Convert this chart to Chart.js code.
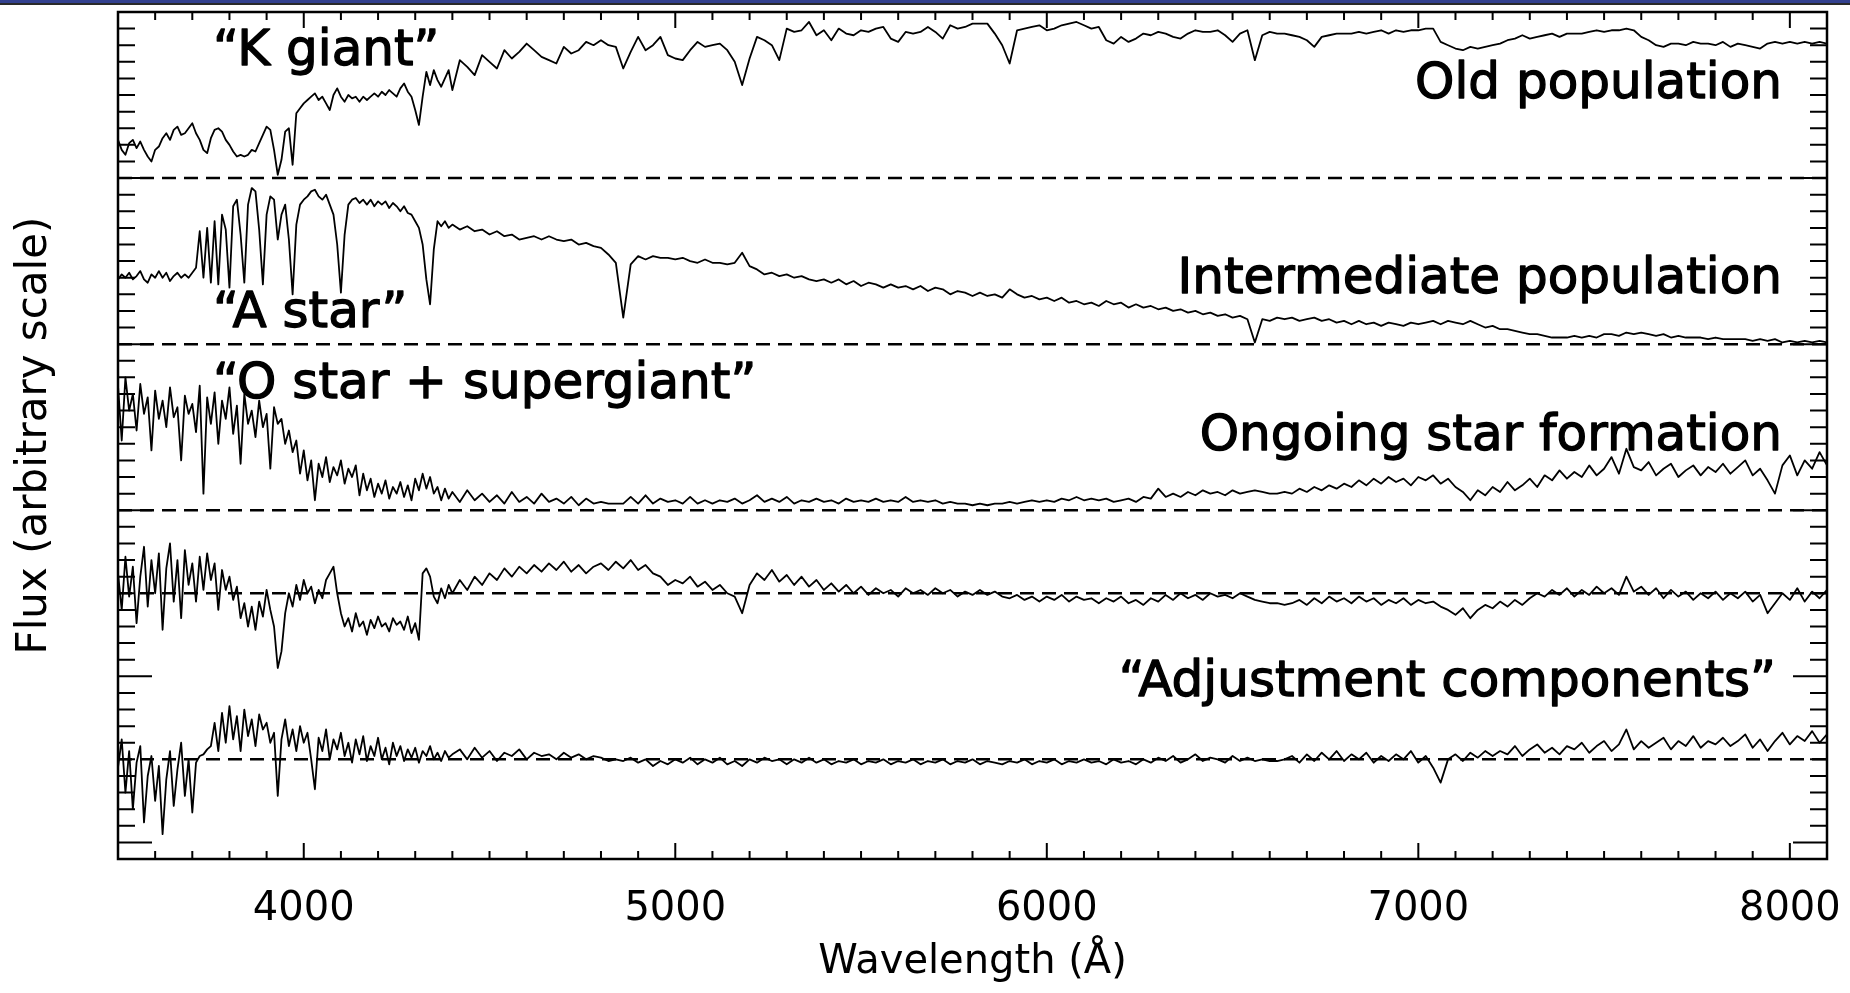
<!DOCTYPE html>
<html>
<head>
<meta charset="utf-8">
<title>Componentes espectrales</title>
<script src="https://cdn.jsdelivr.net/npm/chart.js@4.4.0/dist/chart.umd.min.js"></script>
<style>
  html, body { margin: 0; padding: 0; background: #fff; }
  #banda { position: absolute; left: 0; top: 0; width: 1850px; height: 3px; background: #33418f; border-bottom: 2px solid #2a2a2a; }
  canvas { display: block; }
</style>
</head>
<body>
<div id="banda"></div>
<canvas id="graficoEspectros" width="1850" height="993"></canvas>
<script>
// Longitudes de onda (Å): paso de 10 Å hasta 4400, luego de 20 Å
const longitudes = [
  3500, 3510, 3520, 3530, 3540, 3550, 3560, 3570, 3580, 3590,
  3600, 3610, 3620, 3630, 3640, 3650, 3660, 3670, 3680, 3690,
  3700, 3710, 3720, 3730, 3740, 3750, 3760, 3770, 3780, 3790,
  3800, 3810, 3820, 3830, 3840, 3850, 3860, 3870, 3880, 3890,
  3900, 3910, 3920, 3930, 3940, 3950, 3960, 3970, 3980, 3990,
  4000, 4010, 4020, 4030, 4040, 4050, 4060, 4070, 4080, 4090,
  4100, 4110, 4120, 4130, 4140, 4150, 4160, 4170, 4180, 4190,
  4200, 4210, 4220, 4230, 4240, 4250, 4260, 4270, 4280, 4290,
  4300, 4310, 4320, 4330, 4340, 4350, 4360, 4370, 4380, 4390,
  4400,
  4420, 4440, 4460, 4480, 4500, 4520, 4540, 4560, 4580, 4600,
  4620, 4640, 4660, 4680, 4700, 4720, 4740, 4760, 4780, 4800,
  4820, 4840, 4860, 4880, 4900, 4920, 4940, 4960, 4980, 5000,
  5020, 5040, 5060, 5080, 5100, 5120, 5140, 5160, 5180, 5200,
  5220, 5240, 5260, 5280, 5300, 5320, 5340, 5360, 5380, 5400,
  5420, 5440, 5460, 5480, 5500, 5520, 5540, 5560, 5580, 5600,
  5620, 5640, 5660, 5680, 5700, 5720, 5740, 5760, 5780, 5800,
  5820, 5840, 5860, 5880, 5900, 5920, 5940, 5960, 5980, 6000,
  6020, 6040, 6060, 6080, 6100, 6120, 6140, 6160, 6180, 6200,
  6220, 6240, 6260, 6280, 6300, 6320, 6340, 6360, 6380, 6400,
  6420, 6440, 6460, 6480, 6500, 6520, 6540, 6560, 6580, 6600,
  6620, 6640, 6660, 6680, 6700, 6720, 6740, 6760, 6780, 6800,
  6820, 6840, 6860, 6880, 6900, 6920, 6940, 6960, 6980, 7000,
  7020, 7040, 7060, 7080, 7100, 7120, 7140, 7160, 7180, 7200,
  7220, 7240, 7260, 7280, 7300, 7320, 7340, 7360, 7380, 7400,
  7420, 7440, 7460, 7480, 7500, 7520, 7540, 7560, 7580, 7600,
  7620, 7640, 7660, 7680, 7700, 7720, 7740, 7760, 7780, 7800,
  7820, 7840, 7860, 7880, 7900, 7920, 7940, 7960, 7980, 8000,
  8020, 8040, 8060, 8080, 8100,
];

// "K giant" - población vieja
const poblacionVieja = [
  4.23, 4.17, 4.14, 4.21, 4.23, 4.18, 4.22, 4.17, 4.13, 4.10,
  4.17, 4.19, 4.24, 4.27, 4.23, 4.29, 4.31, 4.26, 4.27, 4.30,
  4.33, 4.27, 4.23, 4.17, 4.15, 4.24, 4.29, 4.30, 4.28, 4.23,
  4.20, 4.16, 4.13, 4.14, 4.13, 4.14, 4.17, 4.16, 4.21, 4.26,
  4.31, 4.29, 4.17, 4.02, 4.11, 4.28, 4.30, 4.08, 4.39, 4.42,
  4.45, 4.47, 4.49, 4.51, 4.47, 4.49, 4.45, 4.41, 4.50, 4.54,
  4.49, 4.46, 4.50, 4.48, 4.49, 4.46, 4.49, 4.47, 4.49, 4.51,
  4.49, 4.52, 4.50, 4.53, 4.51, 4.49, 4.54, 4.57, 4.52, 4.49,
  4.41, 4.32, 4.49, 4.64, 4.56, 4.65, 4.59, 4.55, 4.60, 4.65,
  4.53,
  4.71, 4.67, 4.62, 4.74, 4.70, 4.66, 4.77, 4.72, 4.76, 4.81,
  4.77, 4.73, 4.71, 4.69, 4.79, 4.75, 4.77, 4.82, 4.80, 4.83,
  4.80, 4.79, 4.66, 4.76, 4.85, 4.77, 4.80, 4.85, 4.74, 4.72,
  4.71, 4.77, 4.82, 4.79, 4.80, 4.81, 4.77, 4.70, 4.56, 4.72,
  4.85, 4.83, 4.80, 4.71, 4.90, 4.88, 4.89, 4.94, 4.86, 4.89,
  4.83, 4.90, 4.87, 4.86, 4.89, 4.88, 4.90, 4.91, 4.84, 4.82,
  4.88, 4.87, 4.88, 4.91, 4.88, 4.84, 4.92, 4.90, 4.91, 4.93,
  4.93, 4.93, 4.87, 4.80, 4.69, 4.89, 4.90, 4.91, 4.92, 4.89,
  4.90, 4.92, 4.93, 4.94, 4.92, 4.90, 4.91, 4.83, 4.81, 4.85,
  4.82, 4.84, 4.87, 4.86, 4.88, 4.87, 4.85, 4.84, 4.87, 4.89,
  4.88, 4.88, 4.89, 4.86, 4.82, 4.87, 4.89, 4.71, 4.86, 4.88,
  4.87, 4.87, 4.86, 4.85, 4.83, 4.79, 4.85, 4.86, 4.87, 4.87,
  4.87, 4.88, 4.87, 4.88, 4.89, 4.87, 4.89, 4.88, 4.89, 4.89,
  4.90, 4.90, 4.82, 4.80, 4.78, 4.77, 4.79, 4.78, 4.79, 4.80,
  4.81, 4.83, 4.84, 4.86, 4.84, 4.85, 4.86, 4.87, 4.85, 4.87,
  4.87, 4.87, 4.88, 4.89, 4.88, 4.89, 4.89, 4.90, 4.89, 4.85,
  4.83, 4.80, 4.79, 4.81, 4.81, 4.80, 4.82, 4.81, 4.81, 4.80,
  4.82, 4.79, 4.81, 4.80, 4.79, 4.78, 4.81, 4.82, 4.81, 4.82,
  4.81, 4.82, 4.81, 4.82, 4.81,
];

// "A star" - población intermedia
const poblacionIntermedia = [
  3.39, 3.42, 3.40, 3.43, 3.39, 3.41, 3.44, 3.39, 3.37, 3.42,
  3.40, 3.44, 3.40, 3.43, 3.38, 3.41, 3.43, 3.40, 3.42, 3.40,
  3.43, 3.46, 3.68, 3.40, 3.70, 3.37, 3.74, 3.36, 3.78, 3.69,
  3.34, 3.83, 3.87, 3.66, 3.37, 3.84, 3.94, 3.92, 3.69, 3.36,
  3.78, 3.89, 3.87, 3.63, 3.78, 3.84, 3.63, 3.30, 3.72, 3.84,
  3.87, 3.89, 3.92, 3.93, 3.89, 3.87, 3.90, 3.84, 3.78, 3.60,
  3.31, 3.66, 3.84, 3.87, 3.88, 3.85, 3.87, 3.84, 3.87, 3.83,
  3.86, 3.84, 3.86, 3.82, 3.85, 3.83, 3.80, 3.83, 3.79, 3.78,
  3.74, 3.70, 3.60, 3.39, 3.24, 3.57, 3.74, 3.71, 3.74, 3.70,
  3.72,
  3.69, 3.71, 3.68, 3.69, 3.66, 3.68, 3.65, 3.66, 3.63, 3.64,
  3.65, 3.63, 3.65, 3.63, 3.62, 3.63, 3.60, 3.61, 3.59, 3.58,
  3.54, 3.49, 3.16, 3.48, 3.53, 3.51, 3.53, 3.52, 3.52, 3.51,
  3.52, 3.50, 3.49, 3.51, 3.49, 3.49, 3.48, 3.49, 3.55, 3.47,
  3.45, 3.42, 3.43, 3.41, 3.42, 3.40, 3.41, 3.39, 3.38, 3.39,
  3.37, 3.39, 3.36, 3.38, 3.35, 3.37, 3.36, 3.34, 3.36, 3.34,
  3.35, 3.33, 3.35, 3.32, 3.34, 3.33, 3.30, 3.32, 3.31, 3.29,
  3.31, 3.29, 3.30, 3.28, 3.33, 3.30, 3.28, 3.29, 3.27, 3.28,
  3.26, 3.28, 3.25, 3.26, 3.24, 3.25, 3.23, 3.26, 3.24, 3.25,
  3.22, 3.24, 3.22, 3.23, 3.21, 3.22, 3.20, 3.21, 3.19, 3.20,
  3.18, 3.19, 3.17, 3.18, 3.16, 3.17, 3.15, 3.01, 3.15, 3.14,
  3.16, 3.15, 3.16, 3.14, 3.15, 3.16, 3.14, 3.15, 3.13, 3.14,
  3.12, 3.14, 3.12, 3.13, 3.11, 3.13, 3.12, 3.11, 3.13, 3.12,
  3.13, 3.14, 3.12, 3.14, 3.13, 3.12, 3.14, 3.12, 3.10, 3.11,
  3.09, 3.09, 3.08, 3.07, 3.06, 3.06, 3.05, 3.04, 3.04, 3.04,
  3.05, 3.04, 3.05, 3.04, 3.06, 3.06, 3.05, 3.07, 3.06, 3.07,
  3.06, 3.05, 3.06, 3.04, 3.05, 3.04, 3.04, 3.04, 3.03, 3.04,
  3.03, 3.03, 3.03, 3.03, 3.02, 3.03, 3.02, 3.03, 3.01, 3.02,
  3.01, 3.02, 3.01, 3.02, 3.01,
];

// "O star + supergiant" - formación estelar en curso
const formacionEstelar = [
  2.75, 2.42, 2.80, 2.60, 2.70, 2.48, 2.76, 2.58, 2.68, 2.36,
  2.72, 2.55, 2.66, 2.50, 2.74, 2.56, 2.62, 2.30, 2.69, 2.58,
  2.64, 2.47, 2.75, 2.10, 2.68, 2.52, 2.71, 2.40, 2.66, 2.55,
  2.74, 2.46, 2.63, 2.28, 2.70, 2.52, 2.60, 2.44, 2.66, 2.50,
  2.58, 2.25, 2.62, 2.52, 2.55, 2.40, 2.48, 2.35, 2.42, 2.22,
  2.36, 2.18, 2.30, 2.06, 2.28, 2.20, 2.32, 2.17, 2.26, 2.21,
  2.30, 2.16, 2.25, 2.20, 2.27, 2.09, 2.22, 2.12, 2.19, 2.08,
  2.16, 2.10, 2.18, 2.07, 2.14, 2.10, 2.17, 2.08, 2.15, 2.06,
  2.19, 2.12, 2.22, 2.13, 2.20, 2.10, 2.14, 2.06, 2.13, 2.07,
  2.11,
  2.05, 2.12, 2.06, 2.10, 2.05, 2.09, 2.04, 2.11, 2.05, 2.08,
  2.04, 2.10, 2.05, 2.07, 2.04, 2.08, 2.03, 2.07, 2.04, 2.05,
  2.04, 2.04, 2.04, 2.08, 2.04, 2.09, 2.04, 2.07, 2.05, 2.06,
  2.04, 2.08, 2.04, 2.06, 2.04, 2.06, 2.05, 2.07, 2.04, 2.06,
  2.09, 2.05, 2.07, 2.05, 2.08, 2.04, 2.06, 2.05, 2.07, 2.05,
  2.06, 2.04, 2.07, 2.05, 2.06, 2.05, 2.07, 2.05, 2.06, 2.05,
  2.08, 2.05, 2.06, 2.05, 2.06, 2.04, 2.05, 2.04, 2.04, 2.03,
  2.04, 2.03, 2.04, 2.04, 2.05, 2.04, 2.05, 2.06, 2.05, 2.06,
  2.05, 2.07, 2.06, 2.08, 2.06, 2.07, 2.06, 2.07, 2.05, 2.06,
  2.07, 2.05, 2.08, 2.07, 2.13, 2.08, 2.10, 2.08, 2.11, 2.09,
  2.12, 2.10, 2.11, 2.09, 2.12, 2.10, 2.11, 2.12, 2.11, 2.10,
  2.10, 2.11, 2.10, 2.13, 2.11, 2.14, 2.12, 2.15, 2.13, 2.16,
  2.14, 2.18, 2.15, 2.19, 2.16, 2.20, 2.17, 2.19, 2.15, 2.20,
  2.18, 2.21, 2.16, 2.19, 2.14, 2.11, 2.06, 2.12, 2.09, 2.14,
  2.11, 2.17, 2.12, 2.15, 2.19, 2.14, 2.21, 2.18, 2.24, 2.19,
  2.23, 2.20, 2.27, 2.21, 2.25, 2.32, 2.22, 2.37, 2.26, 2.24,
  2.29, 2.21, 2.25, 2.28, 2.20, 2.24, 2.27, 2.21, 2.26, 2.23,
  2.28, 2.22, 2.26, 2.30, 2.21, 2.25, 2.18, 2.10, 2.27, 2.33,
  2.21, 2.30, 2.25, 2.35, 2.27,
];

// "Adjustment components" - primera componente
const ajusteUno = [
  1.62, 1.40, 1.72, 1.48, 1.66, 1.32, 1.60, 1.78, 1.42, 1.70,
  1.50, 1.74, 1.28, 1.65, 1.80, 1.45, 1.70, 1.35, 1.76, 1.55,
  1.68, 1.45, 1.72, 1.52, 1.74, 1.58, 1.68, 1.40, 1.64, 1.52,
  1.60, 1.46, 1.54, 1.35, 1.44, 1.30, 1.42, 1.28, 1.45, 1.36,
  1.52, 1.40, 1.30, 1.05, 1.15, 1.38, 1.50, 1.42, 1.55, 1.46,
  1.58, 1.50, 1.54, 1.44, 1.52, 1.47, 1.58, 1.62, 1.66, 1.50,
  1.38, 1.30, 1.35, 1.27, 1.38, 1.30, 1.33, 1.25, 1.34, 1.29,
  1.36, 1.30, 1.32, 1.27, 1.35, 1.31, 1.33, 1.28, 1.36, 1.26,
  1.32, 1.22, 1.62, 1.65, 1.60, 1.48, 1.44, 1.53, 1.47, 1.55,
  1.50,
  1.58, 1.52, 1.60, 1.55, 1.62, 1.58, 1.65, 1.60, 1.66, 1.62,
  1.67, 1.63, 1.68, 1.64, 1.69, 1.63, 1.67, 1.62, 1.66, 1.68,
  1.64, 1.69, 1.65, 1.70, 1.64, 1.67, 1.62, 1.60, 1.55, 1.58,
  1.56, 1.60, 1.54, 1.57, 1.52, 1.55, 1.50, 1.48, 1.38, 1.55,
  1.62, 1.58, 1.64, 1.57, 1.61, 1.55, 1.60, 1.54, 1.58, 1.52,
  1.56, 1.51, 1.55, 1.50, 1.54, 1.49, 1.53, 1.50, 1.52, 1.48,
  1.53, 1.50, 1.52, 1.49, 1.53, 1.50, 1.52, 1.48, 1.51, 1.49,
  1.52, 1.49, 1.51, 1.48, 1.47, 1.49, 1.46, 1.48, 1.45, 1.48,
  1.46, 1.49, 1.45, 1.48, 1.46, 1.47, 1.44, 1.47, 1.45, 1.48,
  1.44, 1.46, 1.43, 1.47, 1.45, 1.49, 1.46, 1.50, 1.47, 1.49,
  1.46, 1.50, 1.48, 1.49, 1.47, 1.50, 1.48, 1.46, 1.45, 1.44,
  1.44, 1.43, 1.44, 1.46, 1.43, 1.47, 1.44, 1.48, 1.45, 1.47,
  1.44, 1.48, 1.45, 1.47, 1.43, 1.46, 1.44, 1.47, 1.43, 1.46,
  1.44, 1.45, 1.42, 1.40, 1.37, 1.41, 1.35, 1.40, 1.43, 1.41,
  1.45, 1.42, 1.46, 1.43, 1.47, 1.50, 1.48, 1.52, 1.49, 1.53,
  1.48, 1.52, 1.49, 1.54, 1.50, 1.53, 1.49, 1.60, 1.51, 1.54,
  1.49, 1.53, 1.47, 1.52, 1.48, 1.51, 1.46, 1.50, 1.47, 1.51,
  1.46, 1.50, 1.47, 1.51, 1.45, 1.49, 1.38, 1.44, 1.50, 1.46,
  1.53, 1.45, 1.51, 1.47, 1.52,
];

// "Adjustment components" - segunda componente
const ajusteDos = [
  0.45, 0.62, 0.30, 0.55, 0.20, 0.48, 0.58, 0.12, 0.40, 0.52,
  0.25, 0.46, 0.05, 0.38, 0.55, 0.22, 0.44, 0.60, 0.28, 0.50,
  0.18, 0.48, 0.52, 0.53, 0.56, 0.58, 0.72, 0.55, 0.78, 0.60,
  0.82, 0.62, 0.76, 0.55, 0.80, 0.64, 0.74, 0.58, 0.77, 0.68,
  0.72, 0.60, 0.66, 0.28, 0.62, 0.74, 0.58, 0.68, 0.55, 0.70,
  0.60, 0.66, 0.50, 0.32, 0.63, 0.55, 0.68, 0.50, 0.62, 0.56,
  0.66, 0.52, 0.60, 0.48, 0.62, 0.53, 0.64, 0.49, 0.58, 0.52,
  0.63, 0.50, 0.57, 0.47, 0.60, 0.52, 0.58, 0.49, 0.56, 0.51,
  0.57, 0.48, 0.55, 0.52, 0.58, 0.50, 0.54, 0.49, 0.55, 0.51,
  0.53,
  0.56, 0.50, 0.57, 0.51, 0.55, 0.49, 0.54, 0.52, 0.56, 0.50,
  0.54, 0.52, 0.53, 0.50, 0.54, 0.51, 0.53, 0.50, 0.52, 0.51,
  0.49, 0.50, 0.49, 0.51, 0.48, 0.50, 0.46, 0.49, 0.47, 0.50,
  0.48, 0.51, 0.47, 0.50, 0.48, 0.51, 0.47, 0.49, 0.46, 0.50,
  0.48, 0.51, 0.49, 0.50, 0.47, 0.50, 0.48, 0.51, 0.48, 0.50,
  0.47, 0.49, 0.48, 0.50, 0.47, 0.49, 0.48, 0.50, 0.47, 0.49,
  0.48, 0.50, 0.47, 0.49, 0.48, 0.50, 0.47, 0.49, 0.48, 0.50,
  0.47, 0.49, 0.48, 0.47, 0.49, 0.48, 0.50, 0.47, 0.49, 0.48,
  0.50, 0.47, 0.49, 0.48, 0.50, 0.48, 0.49, 0.47, 0.50, 0.48,
  0.49, 0.47, 0.50, 0.48, 0.51, 0.49, 0.52, 0.48, 0.50, 0.53,
  0.49, 0.51, 0.50, 0.48, 0.52, 0.49, 0.51, 0.49, 0.50, 0.49,
  0.49, 0.50, 0.52, 0.48, 0.53, 0.49, 0.54, 0.50, 0.55, 0.49,
  0.53, 0.50, 0.54, 0.48, 0.52, 0.49, 0.53, 0.50, 0.55, 0.48,
  0.52, 0.45, 0.36, 0.50, 0.53, 0.49, 0.54, 0.51, 0.55, 0.52,
  0.55, 0.53, 0.58, 0.52, 0.56, 0.59, 0.54, 0.57, 0.53, 0.58,
  0.56, 0.60, 0.54, 0.58, 0.61, 0.55, 0.59, 0.68, 0.56, 0.61,
  0.57, 0.60, 0.63, 0.56, 0.61, 0.58, 0.64, 0.57, 0.61, 0.59,
  0.63, 0.58, 0.61, 0.65, 0.57, 0.62, 0.55, 0.61, 0.66, 0.59,
  0.64, 0.61, 0.67, 0.60, 0.65,
];

// Niveles de referencia (líneas discontinuas) y marcas del eje X
const nivelesBase = [4, 3, 2, 1.5, 0.5];
const ticksX = [4000, 5000, 6000, 7000, 8000];

// Textos dentro del gráfico (posición en píxeles)
const anotaciones = [
  { texto: "“K giant”", x: 213, y: 65, alinear: "left" },
  { texto: "Old population", x: 1782, y: 98, alinear: "right" },
  { texto: "Intermediate population", x: 1782, y: 293, alinear: "right" },
  { texto: "“A star”", x: 213, y: 327, alinear: "left" },
  { texto: "“O star + supergiant”", x: 213, y: 398, alinear: "left" },
  { texto: "Ongoing star formation", x: 1782, y: 450, alinear: "right" },
  { texto: "“Adjustment components”", x: 1776, y: 696, alinear: "right" },
];

const espectros = [poblacionVieja, poblacionIntermedia, formacionEstelar, ajusteUno, ajusteDos];
espectros.forEach((serie, i) => {
  if (serie.length !== longitudes.length) console.error("serie", i, serie.length, longitudes.length);
});

const FUENTE = "'DejaVu Sans', sans-serif";
Chart.defaults.font.family = FUENTE;
Chart.defaults.color = "#000";

// Líneas discontinuas de cada componente
const datasetsBase = nivelesBase.map((nivel) => ({
  data: [
    { x: 3500, y: nivel },
    { x: 8100, y: nivel },
  ],
  borderColor: "#000",
  borderWidth: 2.5,
  borderDash: [14, 8],
  pointRadius: 0,
}));

const datasetsEspectros = espectros.map((serie) => ({
  data: serie.map((valor, i) => ({ x: longitudes[i], y: valor })),
  borderColor: "#000",
  borderWidth: 1.8,
  borderJoinStyle: "round",
  pointRadius: 0,
  tension: 0,
}));

// Marco del gráfico, marcas menores en los cuatro lados y textos
const marcoYMarcas = {
  id: "marcoYMarcas",
  afterDatasetsDraw(chart) {
    const { ctx, chartArea: a, scales } = chart;
    const x = scales.x;
    const y = scales.y;
    ctx.save();
    ctx.strokeStyle = "#000";
    ctx.lineWidth = 2;
    ctx.beginPath();
    for (let l = 3600; l <= 8000; l += 100) {
      const px = x.getPixelForValue(l);
      const largo = ticksX.includes(l) ? 16 : 8;
      ctx.moveTo(px, a.bottom);
      ctx.lineTo(px, a.bottom - largo);
      ctx.moveTo(px, a.top);
      ctx.lineTo(px, a.top + largo);
    }
    for (let i = 0; i <= 50; i++) {
      const py = y.getPixelForValue(i / 10);
      const largo = i % 10 === 0 ? 34 : 17;
      ctx.moveTo(a.left, py);
      ctx.lineTo(a.left + largo, py);
      ctx.moveTo(a.right, py);
      ctx.lineTo(a.right - largo, py);
    }
    ctx.stroke();
    ctx.lineWidth = 2.5;
    ctx.strokeRect(a.left, a.top, a.right - a.left, a.bottom - a.top);
    ctx.restore();
  },
  afterDraw(chart) {
    const ctx = chart.ctx;
    ctx.save();
    ctx.fillStyle = "#000";
    ctx.strokeStyle = "#000";
    ctx.lineWidth = 1.3;
    ctx.lineJoin = "round";
    ctx.font = "50px " + FUENTE;
    ctx.textBaseline = "alphabetic";
    anotaciones.forEach((a) => {
      ctx.textAlign = a.alinear;
      ctx.fillText(a.texto, a.x, a.y);
      ctx.strokeText(a.texto, a.x, a.y);
    });
    ctx.restore();
  },
};

const ctx = document.getElementById("graficoEspectros").getContext("2d");
const grafico = new Chart(ctx, {
  type: "line",
  data: { datasets: [...datasetsBase, ...datasetsEspectros] },
  options: {
    responsive: false,
    animation: false,
    devicePixelRatio: 1,
    layout: { padding: { top: 12, right: 23, left: 0, bottom: 0 } },
    plugins: {
      legend: { display: false },
      tooltip: { enabled: false },
    },
    scales: {
      x: {
        type: "linear",
        min: 3500,
        max: 8100,
        grid: { display: false, drawTicks: false },
        border: { display: false },
        ticks: {
          padding: 27,
          font: { size: 40 },
          maxRotation: 0,
          callback: (v) => String(v),
        },
        afterBuildTicks: (escala) => {
          escala.ticks = ticksX.map((v) => ({ value: v }));
        },
        afterFit: (escala) => {
          // alto fijo y sin margen extra por la última etiqueta
          escala.height = 134;
          escala.paddingLeft = 0;
          escala.paddingRight = 0;
        },
        title: {
          display: true,
          text: "Wavelength (Å)",
          font: { size: 40 },
          padding: { top: 0, bottom: 6 },
        },
      },
      y: {
        min: -0.1,
        max: 5.0,
        grid: { display: false, drawTicks: false },
        border: { display: false },
        ticks: { display: false },
        afterFit: (escala) => {
          escala.width = 118;
          escala.paddingTop = 0;
          escala.paddingBottom = 0;
        },
        title: {
          display: true,
          text: "Flux (arbitrary scale)",
          font: { size: 42 },
          padding: { top: 10, bottom: 0 },
        },
      },
    },
  },
  plugins: [marcoYMarcas],
});
</script>
</body>
</html>
